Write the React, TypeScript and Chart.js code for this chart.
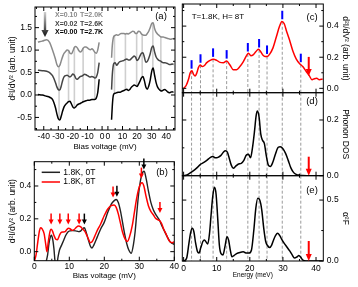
import React, { useEffect, useRef } from "react";
import { Chart, registerables } from "chart.js";

Chart.register(...registerables);

const FONT = "'Liberation Sans', Arial, Helvetica, sans-serif";
Chart.defaults.font.family = FONT;
Chart.defaults.color = "#000";

const RED = "#ff0000";
const BLUE = "#0000ff";
const C010 = "#8a8a8a";
const C002 = "#454545";
const C000 = "#000000";

// ---------- Panel (a): d2I/dV2 vs bias for three compositions ----------
const GAP = 2; // half-width of the axis break (mV)
const aBiasNeg = [-44, -41, -38, -36, -34, -32, -31, -30, -29, -28, -27, -26, -25, -24, -23, -22, -21, -20, -19, -18, -17, -16, -15, -14, -13, -12, -11, -10, -9, -8, -7, -6, -5, -4, -3, -2];
const aX010Neg = [1.18, 1.2, 1.23, 1.17, 1.0, 0.8, 0.68, 0.63, 0.66, 0.76, 0.86, 0.93, 0.97, 1.0, 0.99, 0.93, 0.92, 0.98, 1.06, 1.08, 1.05, 0.99, 0.96, 0.98, 1.04, 1.07, 1.07, 1.05, 1.02, 1.01, 1.03, 1.0, 0.95, 0.93, 1.0, 1.17];
const aX002Neg = [0.55, 0.54, 0.53, 0.5, 0.43, 0.28, 0.18, 0.12, 0.11, 0.2, 0.33, 0.41, 0.43, 0.44, 0.42, 0.4, 0.43, 0.47, 0.44, 0.37, 0.35, 0.38, 0.41, 0.42, 0.44, 0.46, 0.45, 0.43, 0.41, 0.4, 0.41, 0.4, 0.38, 0.4, 0.5, 0.72];
const aX000Neg = [0.01, 0.0, -0.03, -0.05, -0.1, -0.28, -0.42, -0.53, -0.56, -0.47, -0.35, -0.26, -0.21, -0.18, -0.15, -0.14, -0.2, -0.27, -0.29, -0.26, -0.22, -0.2, -0.19, -0.17, -0.15, -0.14, -0.13, -0.12, -0.12, -0.11, -0.1, -0.1, -0.1, -0.07, 0.05, 0.35];
const aBiasPos = [2.5, 3, 3.5, 4, 5, 6, 7, 8, 9, 10, 11, 12, 13, 14, 15, 16, 17, 18, 19, 20, 21, 22, 23, 24, 25, 26, 27, 28, 29, 30, 31, 32, 33, 34, 35, 36, 37, 38, 39, 40, 41, 42, 43, 44, 45];
const aX010Pos = [0.83, 1.1, 1.24, 1.3, 1.33, 1.34, 1.33, 1.35, 1.37, 1.37, 1.37, 1.36, 1.37, 1.36, 1.38, 1.4, 1.42, 1.41, 1.37, 1.38, 1.42, 1.41, 1.36, 1.34, 1.33, 1.33, 1.37, 1.42, 1.5, 1.59, 1.61, 1.48, 1.4, 1.36, 1.33, 1.3, 1.29, 1.29, 1.28, 1.27, 1.26, 1.25, 1.24, 1.25, 1.26];
const aX002Pos = [0.12, 0.45, 0.62, 0.7, 0.72, 0.66, 0.7, 0.74, 0.75, 0.76, 0.77, 0.79, 0.8, 0.78, 0.78, 0.81, 0.84, 0.87, 0.84, 0.77, 0.8, 0.87, 0.93, 0.94, 0.84, 0.73, 0.75, 0.82, 0.92, 1.05, 1.09, 0.96, 0.85, 0.8, 0.77, 0.76, 0.73, 0.72, 0.72, 0.71, 0.7, 0.68, 0.68, 0.69, 0.68];
const aX000Pos = [-0.55, -0.25, -0.05, 0.02, 0.04, 0.05, 0.06, 0.06, 0.07, 0.09, 0.1, 0.12, 0.13, 0.1, 0.12, 0.17, 0.2, 0.22, 0.21, 0.19, 0.24, 0.31, 0.38, 0.41, 0.32, 0.18, 0.13, 0.2, 0.33, 0.52, 0.6, 0.44, 0.28, 0.18, 0.13, 0.1, 0.09, 0.11, 0.12, 0.1, 0.07, 0.05, 0.06, 0.07, 0.06];
const aFeatNeg = [-29.5, -23, -19, -13, -5];
const aFeatPos = [4.5, 12, 19.7, 23.5, 30.8, 36.3];
const aTickNeg = [-40, -30, -20, -10, 0];
const aTickPos = [0, 10, 20, 30, 40];
const aMinorNeg = [-45, -35, -25, -15, -5];
const aMinorPos = [5, 15, 25, 35, 45];
const aYTicks = [-0.5, 0, 0.5, 1, 1.5];
const aYMinor = [-0.75, -0.25, 0.25, 0.75, 1.25, 1.75];
const aLegendX = ["X=0.10", "X=0.02", "X=0.00"];
const aLegendT = ["T=2.0K", "T=2.6K", "T=2.7K"];

// ---------- Panel (b): 0 T vs 8 T ----------
const bBias8T = [0, 0.5, 1.0, 1.5, 1.8, 2.2, 2.8, 3.3, 3.6, 4.0, 4.4, 4.8, 5.2, 5.6, 6.2, 6.6, 7.2, 7.6, 8.2, 8.8, 9.3, 9.8, 10.3, 10.8, 11.4, 12.0, 12.6, 13.2, 13.8, 14.4, 15.0, 15.6, 16.0, 16.5, 17.2, 18, 19, 20, 21, 22, 22.8, 23.4, 24.0, 24.6, 25.2, 26.0, 26.6, 27.2, 28.0, 28.6, 29.2, 29.8, 30.4, 30.8, 31.3, 31.9, 32.6, 33.3, 34.0, 34.6, 35.2, 35.8, 36.4, 37.0, 37.6, 38.2, 38.8, 39.4, 40.0];
const bD2_8T = [-0.06, -0.02, 0.06, 0.13, 0.146, 0.14, 0.11, 0.04, 0.0, 0.06, 0.115, 0.136, 0.125, 0.1, 0.075, 0.073, 0.1, 0.115, 0.12, 0.122, 0.135, 0.142, 0.138, 0.13, 0.135, 0.148, 0.156, 0.152, 0.138, 0.125, 0.1, 0.07, 0.055, 0.06, 0.09, 0.13, 0.17, 0.22, 0.26, 0.28, 0.284, 0.27, 0.23, 0.175, 0.12, 0.075, 0.062, 0.09, 0.16, 0.24, 0.32, 0.38, 0.415, 0.42, 0.4, 0.34, 0.28, 0.245, 0.225, 0.205, 0.195, 0.19, 0.17, 0.135, 0.11, 0.08, 0.06, 0.055, 0.06];
const bBias0T = [3.4, 3.8, 4.2, 4.6, 4.9, 5.3, 5.6, 6.0, 6.4, 6.8, 7.2, 7.8, 8.4, 9.0, 9.6, 10.2, 11.0, 11.8, 12.6, 13.2, 13.8, 14.3, 14.8, 15.4, 16.0, 16.5, 17.0, 18, 19, 20, 21, 22, 22.8, 23.4, 24.0, 24.6, 25.2, 25.8, 26.4, 27.0, 27.7, 28.3, 28.8, 29.3, 29.8, 30.4, 31.0, 31.4, 32.0, 32.6, 33.3, 34.0, 34.6, 35.2, 35.8, 36.5, 37.2, 38.0, 38.8, 39.4, 40.0];
const bD2_0T = [-0.06, -0.02, 0.05, 0.09, 0.1, 0.07, 0.02, -0.07, -0.08, -0.03, 0.01, 0.04, 0.07, 0.1, 0.12, 0.127, 0.128, 0.127, 0.122, 0.125, 0.14, 0.146, 0.12, 0.075, 0.035, 0.022, 0.04, 0.09, 0.14, 0.18, 0.24, 0.29, 0.31, 0.318, 0.3, 0.25, 0.18, 0.11, 0.05, 0.01, -0.01, 0.04, 0.12, 0.24, 0.35, 0.44, 0.485, 0.49, 0.44, 0.37, 0.3, 0.255, 0.23, 0.21, 0.19, 0.155, 0.125, 0.09, 0.06, 0.05, 0.045];
const bArrowRedX = [4.8, 7.3, 9.7, 12.8, 22.5, 30.6, 35.9];
const bArrowRedY = [0.165, 0.165, 0.165, 0.165, 0.33, 0.445, 0.235];
const bArrowBlackX = [14.3, 23.6, 31.3];
const bArrowBlackY = [0.165, 0.335, 0.5];
const bXTicks = [0, 10, 20, 30, 40];
const bXMinor = [5, 15, 25, 35];
const bYTicks = [0, 0.2, 0.4];
const bYMinor = [0.1, 0.3, 0.5];
const bLegend = ["1.8K, 0T", "1.8K, 8T"];

// ---------- Panels (c)(d)(e): energy axis ----------
const cEnergy = [0, 0.8, 1.5, 2.0, 2.5, 3.0, 3.5, 4.0, 4.5, 5.0, 5.6, 6.2, 7.0, 8.0, 9.0, 10, 11, 12, 13, 14, 15, 16, 17, 18, 19, 19.6, 20.3, 21.0, 21.8, 22.6, 23.3, 24.0, 24.6, 25.3, 26.0, 27, 28, 29, 29.7, 30.4, 31.2, 32, 33, 34, 35, 36, 37, 38, 38.8, 39.5, 40.2, 41, 42];
const cD2 = [0.0, 0.02, 0.06, 0.1, 0.113, 0.09, 0.08, 0.1, 0.135, 0.15, 0.14, 0.145, 0.165, 0.18, 0.187, 0.18, 0.167, 0.165, 0.175, 0.15, 0.12, 0.12, 0.14, 0.17, 0.21, 0.226, 0.21, 0.215, 0.235, 0.251, 0.235, 0.212, 0.205, 0.205, 0.22, 0.26, 0.33, 0.4, 0.43, 0.415, 0.36, 0.31, 0.24, 0.19, 0.16, 0.14, 0.11, 0.08, 0.055, 0.062, 0.065, 0.055, 0.06];
const dEnergy = [0, 1, 2, 3, 4, 5, 6, 7, 8, 8.8, 9.6, 10.4, 11.2, 12.0, 12.6, 13.2, 13.8, 14.4, 15.0, 15.8, 16.6, 17.4, 18.2, 19.0, 19.6, 20.2, 20.8, 21.4, 21.9, 22.3, 22.8, 23.3, 23.8, 24.4, 25.0, 25.6, 26.2, 27.0, 27.8, 28.6, 29.2, 30.0, 30.8, 31.6, 32.4, 33.2, 34.0, 35.0, 36.0, 38.0, 42.0];
const dDos = [0, 0.003, 0.01, 0.018, 0.028, 0.04, 0.047, 0.055, 0.065, 0.069, 0.064, 0.066, 0.072, 0.084, 0.09, 0.085, 0.062, 0.038, 0.027, 0.035, 0.042, 0.044, 0.055, 0.075, 0.077, 0.064, 0.1, 0.158, 0.215, 0.232, 0.21, 0.15, 0.128, 0.115, 0.07, 0.038, 0.033, 0.05, 0.08, 0.102, 0.104, 0.097, 0.08, 0.055, 0.028, 0.012, 0.005, 0.002, 0.001, 0, 0];
const eEnergy = [0, 0.9, 1.6, 2.1, 2.6, 3.1, 3.6, 4.2, 4.6, 5.2, 5.8, 6.3, 6.8, 7.3, 7.8, 8.3, 8.8, 9.3, 9.8, 10.3, 10.8, 11.3, 11.9, 12.5, 13.1, 13.6, 14.1, 14.6, 15.2, 16.0, 17, 18, 19, 19.8, 20.5, 21.2, 21.8, 22.4, 23.0, 23.6, 24.2, 24.8, 25.4, 26.0, 26.6, 27.2, 27.8, 28.4, 29.0, 29.6, 30.4, 31.2, 32.0, 32.8, 33.5, 34.3, 34.8, 35.4, 36.0, 37.0, 42];
const eA2F = [0, 0.022, 0.145, 0.23, 0.268, 0.24, 0.15, 0.075, 0.065, 0.11, 0.16, 0.172, 0.155, 0.14, 0.22, 0.38, 0.53, 0.605, 0.55, 0.35, 0.13, 0.06, 0.05, 0.12, 0.2, 0.17, 0.09, 0.035, 0.045, 0.06, 0.07, 0.075, 0.065, 0.065, 0.09, 0.25, 0.43, 0.515, 0.5, 0.42, 0.27, 0.16, 0.125, 0.11, 0.13, 0.175, 0.21, 0.227, 0.21, 0.18, 0.145, 0.115, 0.085, 0.05, 0.025, 0.035, 0.045, 0.03, 0.008, 0, 0];
const featEnergy = [2.4, 5.1, 8.9, 13.0, 19.4, 22.8, 25.2, 29.8, 35.4];
const cutoffEnergy = 37.8;
const cArrowTipY = 0.08;
const eXTicks = [0, 10, 20, 30, 40];
const eXMinor = [5, 15, 25, 35];
const cYTicks = [0, 0.2, 0.4];
const cYMinor = [0.1, 0.3, 0.5];
const dYTicks = [0, 0.2];
const dYMinor = [0.1];
const eYTicks = [0, 0.5];
const eYMinor = [0.25];

// ---------- helpers ----------
function interp(xs: number[], ys: number[], x: number) {
  for (let i = 0; i < xs.length - 1; i++) {
    if (x >= xs[i] && x <= xs[i + 1]) {
      const t = (x - xs[i]) / (xs[i + 1] - xs[i]);
      return ys[i] + t * (ys[i + 1] - ys[i]);
    }
  }
  return x < xs[0] ? ys[0] : ys[ys.length - 1];
}

function line(xs: number[], ys: number[], color: string, width = 1.4, shift = 0, order = 1): any {
  return {
    data: xs.map((x, i) => ({ x: x + shift, y: ys[i] })),
    borderColor: color,
    borderWidth: width,
    pointRadius: 0,
    fill: false,
    cubicInterpolationMode: "monotone",
    order,
  };
}

function seg(ctx: any, x1: number, y1: number, x2: number, y2: number) {
  ctx.beginPath();
  ctx.moveTo(x1, y1);
  ctx.lineTo(x2, y2);
  ctx.stroke();
}

function drawFrame(chart: any, s: { xMajor: number[]; xMinor: number[]; yMajor: number[]; yMinor: number[] }) {
  const { ctx, chartArea: a } = chart;
  const xs = chart.scales.x;
  const ys = chart.scales.y;
  ctx.save();
  ctx.strokeStyle = "#000";
  ctx.lineWidth = 1;
  const doX = (vals: number[], len: number) =>
    vals.forEach((v) => {
      const p = xs.getPixelForValue(v);
      if (p < a.left - 0.5 || p > a.right + 0.5) return;
      seg(ctx, p, a.bottom, p, a.bottom - len);
      seg(ctx, p, a.top, p, a.top + len);
    });
  const doY = (vals: number[], len: number) =>
    vals.forEach((v) => {
      const p = ys.getPixelForValue(v);
      if (p < a.top - 0.5 || p > a.bottom + 0.5) return;
      seg(ctx, a.left, p, a.left + len, p);
      seg(ctx, a.right, p, a.right - len, p);
    });
  doX(s.xMajor, 4);
  doX(s.xMinor, 2);
  doY(s.yMajor, 4);
  doY(s.yMinor, 2);
  ctx.strokeRect(a.left, a.top, a.right - a.left, a.bottom - a.top);
  ctx.restore();
}

function drawArrow(ctx: any, x: number, yTip: number, len: number, color: string, headW: number, headH: number, lw: number) {
  ctx.save();
  ctx.strokeStyle = color;
  ctx.fillStyle = color;
  ctx.lineWidth = lw;
  seg(ctx, x, yTip - len, x, yTip - headH + 0.5);
  ctx.beginPath();
  ctx.moveTo(x - headW / 2, yTip - headH);
  ctx.lineTo(x + headW / 2, yTip - headH);
  ctx.lineTo(x, yTip);
  ctx.closePath();
  ctx.fill();
  ctx.restore();
}

function label(ctx: any, s: string, x: number, y: number, size: number, color = "#000", align = "left", weight = "normal") {
  ctx.save();
  ctx.font = `${weight} ${size}px ${FONT}`;
  ctx.fillStyle = color;
  ctx.textAlign = align;
  ctx.textBaseline = "middle";
  ctx.fillText(s, x, y);
  ctx.restore();
}

function yAxis(o: { min: number; max: number; ticks: number[]; pos: string; width: number; title: string; titlePad: number; tickPad: number }): any {
  return {
    type: "linear",
    position: o.pos,
    min: o.min,
    max: o.max,
    grid: { display: false, drawTicks: false },
    border: { display: false },
    afterBuildTicks: (s: any) => {
      s.ticks = o.ticks.map((v) => ({ value: v }));
    },
    afterFit: (s: any) => {
      s.width = o.width;
      s.paddingTop = 0;
      s.paddingBottom = 0;
    },
    ticks: { font: { size: 8.5 }, padding: o.tickPad, autoSkip: false, callback: (v: any) => Number(v).toFixed(1) },
    title: { display: true, text: o.title, font: { size: 8.5 }, padding: { top: o.titlePad, bottom: 0 } },
  };
}

function xAxis(o: { min: number; max: number; ticks: number[]; height: number; title: string; titleSize: number; tickPad: number; display?: boolean; callback?: (v: number) => string }): any {
  return {
    type: "linear",
    position: "bottom",
    display: o.display !== false,
    min: o.min,
    max: o.max,
    grid: { display: false, drawTicks: false },
    border: { display: false },
    afterBuildTicks: (s: any) => {
      s.ticks = o.ticks.map((v) => ({ value: v }));
    },
    afterFit: (s: any) => {
      s.height = o.height;
      s.paddingLeft = 0;
      s.paddingRight = 0;
    },
    ticks: {
      font: { size: 8.5 },
      padding: o.tickPad,
      autoSkip: false,
      maxRotation: 0,
      callback: o.callback || ((v: any) => String(Math.round(Number(v)))),
    },
    title: { display: true, text: o.title, font: { size: o.titleSize }, padding: { top: 0, bottom: 0 } },
  };
}

function baseOptions(padding: any): any {
  return {
    responsive: false,
    maintainAspectRatio: false,
    animation: false,
    devicePixelRatio: 1,
    events: [],
    layout: { padding },
    plugins: { legend: { display: false }, tooltip: { enabled: false } },
  };
}

// ---------- chart builders ----------
function buildA(canvas: HTMLCanvasElement) {
  const featLines: any[] = [];
  const feat = (v: number, shift: number, xs: number[], lo: number[], hi: number[]) => ({
    data: [
      { x: v + shift, y: interp(xs, lo, v) },
      { x: v + shift, y: interp(xs, hi, v) },
    ],
    borderColor: "#cfcfcf",
    borderWidth: 1.6,
    pointRadius: 0,
    tension: 0,
    order: 5,
  });
  aFeatNeg.forEach((v) => featLines.push(feat(v, -GAP, aBiasNeg, aX000Neg, aX010Neg)));
  aFeatPos.forEach((v) => featLines.push(feat(v, GAP, aBiasPos, aX000Pos, aX010Pos)));
  const xMajor = [...aTickNeg.map((v) => v - GAP), ...aTickPos.map((v) => v + GAP)];
  const xMinor = [...aMinorNeg.map((v) => v - GAP), ...aMinorPos.map((v) => v + GAP)];
  const colors = [C010, C002, C000];
  const opts = baseOptions({ top: 7, right: 5, left: 0, bottom: 0 });
  opts.scales = {
    x: xAxis({
      min: -48,
      max: 48,
      ticks: xMajor,
      height: 22,
      title: "Bias voltage (mV)",
      titleSize: 8,
      tickPad: 2,
      callback: (v: any) => String(Math.round(Number(v) < 0 ? Number(v) + GAP : Number(v) - GAP)),
    }),
    y: yAxis({ min: -0.78, max: 1.96, ticks: aYTicks, pos: "left", width: 35, title: "d²I/dV² (arb. unit)", titlePad: 7.5, tickPad: 3 }),
  };
  return new Chart(canvas, {
    type: "line",
    data: {
      datasets: [
        line(aBiasNeg, aX010Neg, C010, 1.5, -GAP),
        line(aBiasNeg, aX002Neg, C002, 1.5, -GAP),
        line(aBiasNeg, aX000Neg, C000, 1.5, -GAP),
        line(aBiasPos, aX010Pos, C010, 1.5, GAP),
        line(aBiasPos, aX002Pos, C002, 1.5, GAP),
        line(aBiasPos, aX000Pos, C000, 1.5, GAP),
        ...featLines,
      ],
    },
    options: opts,
    plugins: [
      {
        id: "panelA",
        afterDraw(chart: any) {
          const { ctx, chartArea: a } = chart;
          drawFrame(chart, { xMajor, xMinor, yMajor: aYTicks, yMinor: aYMinor });
          aLegendX.forEach((s, i) => {
            label(ctx, s, a.left + 20, a.top + 8 + i * 8.6, 7, colors[i], "left", "bold");
            label(ctx, aLegendT[i], a.left + 45, a.top + 8 + i * 8.6, 7, colors[i], "left", "bold");
          });
          ctx.save();
          const x0 = a.left + 10;
          const g = ctx.createLinearGradient(0, a.top + 5, 0, a.top + 30);
          g.addColorStop(0, "#d0d0d0");
          g.addColorStop(1, "#111111");
          ctx.fillStyle = g;
          ctx.fillRect(x0 - 1.2, a.top + 5, 2.4, 19);
          ctx.beginPath();
          ctx.moveTo(x0 - 3.6, a.top + 23);
          ctx.lineTo(x0 + 3.6, a.top + 23);
          ctx.lineTo(x0, a.top + 30);
          ctx.closePath();
          ctx.fill();
          ctx.restore();
          label(ctx, "(a)", a.right - 14, a.top + 9, 9.5, "#000", "center");
        },
      },
    ],
  } as any);
}

function buildB(canvas: HTMLCanvasElement) {
  const opts = baseOptions({ top: 11.7, right: 7.7, left: 0, bottom: 0 });
  opts.scales = {
    x: xAxis({ min: 0, max: 40, ticks: bXTicks, height: 20.3, title: "Bias voltage (mV)", titleSize: 8, tickPad: 1 }),
    y: yAxis({ min: -0.055, max: 0.548, ticks: bYTicks, pos: "left", width: 34.3, title: "d²I/dV² (arb. unit)", titlePad: 8, tickPad: 3 }),
  };
  return new Chart(canvas, {
    type: "line",
    data: {
      datasets: [line(bBias8T, bD2_8T, RED, 1.5), line(bBias0T, bD2_0T, "#222222", 1.4, 0, 2)],
    },
    options: opts,
    plugins: [
      {
        id: "panelB",
        afterDraw(chart: any) {
          const { ctx, chartArea: a, scales } = chart;
          drawFrame(chart, { xMajor: bXTicks, xMinor: bXMinor, yMajor: bYTicks, yMinor: bYMinor });
          bArrowRedX.forEach((x, i) =>
            drawArrow(ctx, scales.x.getPixelForValue(x), scales.y.getPixelForValue(bArrowRedY[i]), 11, RED, 5, 5, 1.5)
          );
          bArrowBlackX.forEach((x, i) =>
            drawArrow(ctx, scales.x.getPixelForValue(x), scales.y.getPixelForValue(bArrowBlackY[i]), 11, "#000", 5, 5, 1.5)
          );
          ctx.save();
          ctx.lineWidth = 1.5;
          ctx.strokeStyle = "#222222";
          seg(ctx, a.left + 7.4, a.top + 10.6, a.left + 25.7, a.top + 10.6);
          ctx.strokeStyle = RED;
          seg(ctx, a.left + 7.4, a.top + 20.3, a.left + 25.7, a.top + 20.3);
          ctx.restore();
          label(ctx, bLegend[0], a.left + 29, a.top + 10.6, 8.5);
          label(ctx, bLegend[1], a.left + 29, a.top + 20.3, 8.5);
          label(ctx, "(b)", a.right - 12.3, a.top + 11, 9.5, "#000", "center");
        },
      },
    ],
  } as any);
}

function dashed(chart: any, fromCurve: null | { xs: number[]; ys: number[] }) {
  const { ctx, chartArea: a, scales } = chart;
  ctx.save();
  ctx.strokeStyle = "#9a9a9a";
  ctx.lineWidth = 1;
  ctx.setLineDash([3, 2]);
  featEnergy.forEach((e) => {
    const px = scales.x.getPixelForValue(e);
    const top = fromCurve ? scales.y.getPixelForValue(interp(fromCurve.xs, fromCurve.ys, e)) : a.top;
    seg(ctx, px, top, px, a.bottom);
  });
  ctx.restore();
}

function buildC(canvas: HTMLCanvasElement) {
  const opts = baseOptions({ top: 4, right: 0, left: 6.3, bottom: 3.3 });
  opts.scales = {
    x: xAxis({ min: -0.4, max: 42.2, ticks: eXTicks, height: 0, title: "", titleSize: 6.5, tickPad: 2, display: false }),
    y: yAxis({ min: -0.028, max: 0.542, ticks: cYTicks, pos: "right", width: 34.7, title: "d²I/dV² (arb. unit)", titlePad: 8, tickPad: 3.5 }),
  };
  return new Chart(canvas, {
    type: "line",
    data: { datasets: [line(cEnergy, cD2, RED, 1.5)] },
    options: opts,
    plugins: [
      {
        id: "panelC",
        beforeDatasetsDraw(chart: any) {
          dashed(chart, { xs: cEnergy, ys: cD2 });
        },
        afterDraw(chart: any) {
          const { ctx, chartArea: a, scales } = chart;
          drawFrame(chart, { xMajor: eXTicks, xMinor: eXMinor, yMajor: cYTicks, yMinor: cYMinor });
          ctx.save();
          ctx.fillStyle = BLUE;
          featEnergy.forEach((e) => {
            const px = scales.x.getPixelForValue(e);
            const py = scales.y.getPixelForValue(interp(cEnergy, cD2, e));
            ctx.fillRect(px - 1, py - 11, 2, 8.5);
          });
          ctx.restore();
          drawArrow(ctx, scales.x.getPixelForValue(cutoffEnergy), scales.y.getPixelForValue(cArrowTipY), 19, RED, 6, 7, 2);
          label(ctx, "T=1.8K, H= 8T", a.left + 9.4, a.top + 13, 8);
          label(ctx, "(c)", a.right - 11.3, a.top + 13, 9.5, "#000", "center");
        },
      },
    ],
  } as any);
}

function buildD(canvas: HTMLCanvasElement) {
  const opts = baseOptions({ top: 2.7, right: 0, left: 6.3, bottom: 6.3 });
  opts.scales = {
    x: xAxis({ min: -0.4, max: 42.2, ticks: eXTicks, height: 0, title: "", titleSize: 6.5, tickPad: 2, display: false }),
    y: yAxis({ min: 0, max: 0.298, ticks: dYTicks, pos: "right", width: 34.7, title: "Phonon DOS", titlePad: 8, tickPad: 3.5 }),
  };
  return new Chart(canvas, {
    type: "line",
    data: { datasets: [line(dEnergy, dDos, "#000", 1.5)] },
    options: opts,
    plugins: [
      {
        id: "panelD",
        beforeDatasetsDraw(chart: any) {
          dashed(chart, null);
        },
        afterDraw(chart: any) {
          const { ctx, chartArea: a, scales } = chart;
          drawFrame(chart, { xMajor: eXTicks, xMinor: eXMinor, yMajor: dYTicks, yMinor: dYMinor });
          drawArrow(ctx, scales.x.getPixelForValue(cutoffEnergy), scales.y.getPixelForValue(0), 19, RED, 6, 7, 2);
          label(ctx, "(d)", a.right - 11.3, a.top + 8.6, 9.5, "#000", "center");
        },
      },
    ],
  } as any);
}

function buildE(canvas: HTMLCanvasElement) {
  const opts = baseOptions({ top: 2.7, right: 0, left: 6.3, bottom: 0 });
  opts.scales = {
    x: xAxis({ min: -0.4, max: 42.2, ticks: eXTicks, height: 18, title: "Energy (meV)", titleSize: 6.5, tickPad: 2.2 }),
    y: yAxis({ min: 0, max: 0.7, ticks: eYTicks, pos: "right", width: 34.7, title: "α²F", titlePad: 8, tickPad: 3.5 }),
  };
  return new Chart(canvas, {
    type: "line",
    data: { datasets: [line(eEnergy, eA2F, "#000", 1.5)] },
    options: opts,
    plugins: [
      {
        id: "panelE",
        beforeDatasetsDraw(chart: any) {
          dashed(chart, null);
        },
        afterDraw(chart: any) {
          const { ctx, chartArea: a, scales } = chart;
          drawFrame(chart, { xMajor: eXTicks, xMinor: eXMinor, yMajor: eYTicks, yMinor: eYMinor });
          drawArrow(ctx, scales.x.getPixelForValue(cutoffEnergy), scales.y.getPixelForValue(0), 20, RED, 6, 7, 2);
          label(ctx, "(e)", a.right - 11.3, a.top + 14.6, 9.5, "#000", "center");
        },
      },
    ],
  } as any);
}

function ChartCanvas({ rect, make }: { rect: number[]; make: (c: HTMLCanvasElement) => any }) {
  const ref = useRef<HTMLCanvasElement | null>(null);
  useEffect(() => {
    const chart = make(ref.current as HTMLCanvasElement);
    return () => chart.destroy();
  }, []);
  const [left, top, width, height] = rect;
  return (
    <canvas
      ref={ref}
      width={width}
      height={height}
      style={{ position: "absolute", left, top, width, height, display: "block" }}
    />
  );
}

export default function App() {
  return (
    <div style={{ position: "absolute", left: 0, top: 0, width: 358, height: 287, background: "#fff", overflow: "hidden" }}>
      <ChartCanvas rect={[0, 0, 180, 152]} make={buildA} />
      <ChartCanvas rect={[0, 150, 182, 131]} make={buildB} />
      <ChartCanvas rect={[176, 0, 182, 96]} make={buildC} />
      <ChartCanvas rect={[176, 90, 182, 92]} make={buildD} />
      <ChartCanvas rect={[176, 173, 182, 106]} make={buildE} />
    </div>
  );
}
